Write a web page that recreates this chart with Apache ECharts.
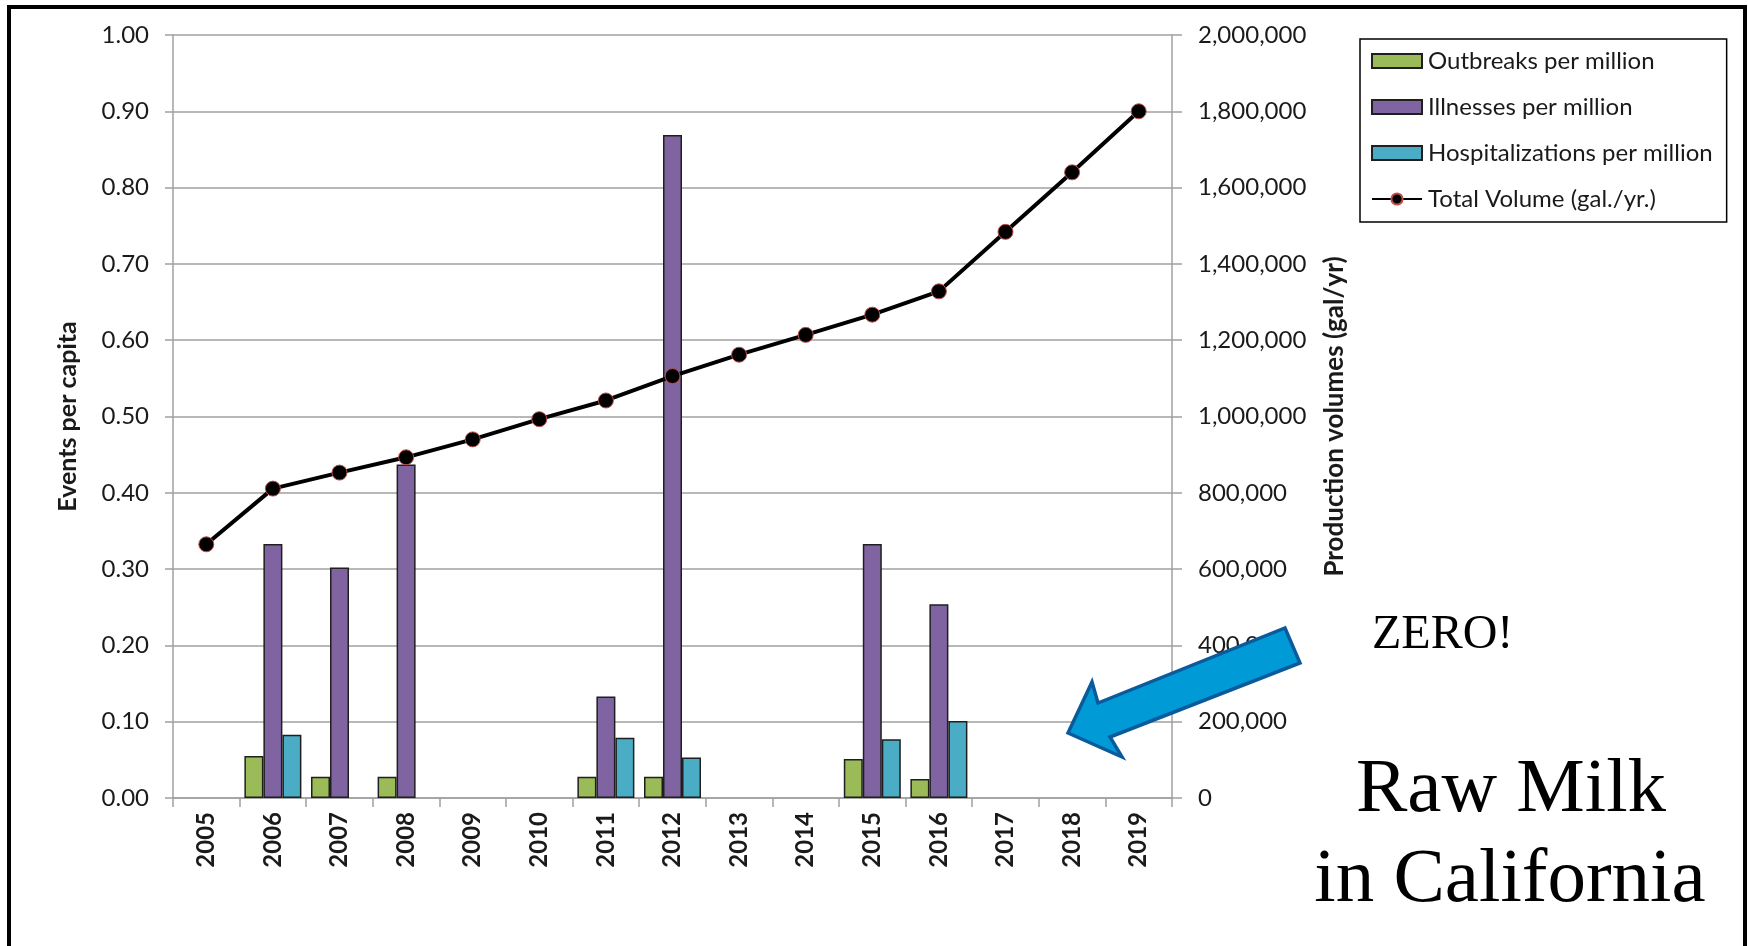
<!DOCTYPE html>
<html>
<head>
<meta charset="utf-8">
<script src="https://cdn.jsdelivr.net/npm/echarts@6/dist/echarts.min.js"></script>
<style>
  html, body { margin: 0; padding: 0; background: #fff; }
  #chart { width: 1748px; height: 946px; }
</style>
</head>
<body>
<div id="chart"></div>
<script>
  var years = ['2005','2006','2007','2008','2009','2010','2011','2012','2013','2014','2015','2016','2017','2018','2019'];
  var outbreaks = [0, 0.055, 0.028, 0.028, 0, 0, 0.028, 0.028, 0, 0, 0.051, 0.025, 0, 0, 0];
  var illnesses = [0, 0.333, 0.302, 0.437, 0, 0, 0.133, 0.869, 0, 0, 0.333, 0.254, 0, 0, 0];
  var hospitalizations = [0, 0.083, 0, 0, 0, 0, 0.079, 0.053, 0, 0, 0.077, 0.101, 0, 0, 0];
  var volume = [665000, 811000, 853000, 893000, 940000, 993000, 1042000, 1106000, 1162000, 1214000, 1267000, 1328000, 1484000, 1640000, 1800000];

  var gray = '#a0a0a0';
  var ink = '#1a1a1a';
  var sans = 'Lato, "Open Sans", sans-serif';
  var serif = '"Liberation Serif", "DejaVu Serif", serif';

  // zero years draw no bar
  function bars(arr) { return arr.map(function(v) { return v === 0 ? '-' : v; }); }

  var chart = echarts.init(document.getElementById('chart'), null, { renderer: 'canvas' });
  chart.setOption({
    animation: false,
    backgroundColor: '#fff',
    textStyle: { fontFamily: sans },
    grid: { left: 173, right: 576, top: 35, bottom: 148 },
    legend: {
      orient: 'vertical',
      left: 1360, top: 39,
      padding: [10, 14, 11, 11],
      itemGap: 22,
      itemWidth: 50, itemHeight: 14,
      borderColor: '#000', borderWidth: 1.5,
      backgroundColor: '#fff',
      textStyle: { color: ink, fontSize: 24, fontFamily: sans, padding: [0, 0, 0, 1] },
      data: [
        { name: 'Outbreaks per million', icon: 'rect' },
        { name: 'Illnesses per million', icon: 'rect' },
        { name: 'Hospitalizations per million', icon: 'rect' },
        { name: 'Total Volume (gal./yr.)' }
      ]
    },
    xAxis: {
      type: 'category',
      data: years,
      axisLine: { lineStyle: { color: gray, width: 1.5 } },
      axisTick: { show: true, length: 9, lineStyle: { color: gray, width: 1.5 } },
      axisLabel: { rotate: 90, margin: 14, color: ink, fontSize: 24, fontWeight: 'bold', fontFamily: sans }
    },
    yAxis: [
      {
        type: 'value', min: 0, max: 1, interval: 0.1,
        name: 'Events per capita', nameLocation: 'middle', nameRotate: 90, nameGap: 93,
        nameTextStyle: { color: ink, fontSize: 25, fontWeight: 'bold', fontFamily: sans },
        axisLine: { show: true, lineStyle: { color: gray, width: 1.5 } },
        axisTick: { show: true, length: 8, lineStyle: { color: gray, width: 1.5 } },
        splitLine: { lineStyle: { color: gray, width: 1.5 } },
        axisLabel: { margin: 24, color: ink, fontSize: 24, fontFamily: sans, formatter: function(v) { return v.toFixed(2); } }
      },
      {
        type: 'value', min: 0, max: 2000000, interval: 200000,
        name: 'Production volumes (gal/yr)', nameLocation: 'middle', nameRotate: 90, nameGap: 150,
        nameTextStyle: { color: ink, fontSize: 26, fontWeight: 'bold', fontFamily: sans },
        axisLine: { show: true, lineStyle: { color: gray, width: 1.5 } },
        axisTick: { show: true, length: 10, lineStyle: { color: gray, width: 1.5 } },
        splitLine: { show: false },
        axisLabel: { margin: 26, color: ink, fontSize: 24, fontFamily: sans, formatter: function(v) { return v.toLocaleString('en-US'); } }
      }
    ],
    series: [
      {
        name: 'Outbreaks per million', type: 'bar', data: bars(outbreaks),
        barWidth: 19, barGap: '0%',
        itemStyle: { color: '#9bbb59', borderColor: '#1f1f1f', borderWidth: 1.5 }
      },
      {
        name: 'Illnesses per million', type: 'bar', data: bars(illnesses),
        barWidth: 19, barGap: '0%',
        itemStyle: { color: '#8064a2', borderColor: '#1f1f1f', borderWidth: 1.5 }
      },
      {
        name: 'Hospitalizations per million', type: 'bar', data: bars(hospitalizations),
        barWidth: 19, barGap: '0%',
        itemStyle: { color: '#4bacc6', borderColor: '#1f1f1f', borderWidth: 1.5 }
      },
      {
        name: 'Total Volume (gal./yr.)', type: 'line', yAxisIndex: 1, data: volume,
        symbol: 'circle', symbolSize: 15,
        lineStyle: { color: '#000', width: 4 },
        itemStyle: { color: '#000', borderColor: '#c0504d', borderWidth: 1 },
        z: 5
      }
    ],
    graphic: [
      // frame around the slide
      { type: 'rect', z: 100, silent: true, shape: { x: 9, y: 7, width: 1736, height: 960 },
        style: { fill: 'none', stroke: '#000', lineWidth: 4 } },
      // arrow pointing at the empty years
      { type: 'polygon', z: 100, silent: true,
        shape: { points: [[1068, 733], [1092, 682], [1098, 703], [1285, 628], [1300, 663], [1110, 737], [1122, 757]] },
        style: { fill: '#009bd6', stroke: '#0b5a9c', lineWidth: 3.5, lineJoin: 'miter' } },
      { type: 'text', z: 100, left: 1372, top: 611, silent: true,
        style: { text: 'ZERO!', fill: '#000', font: '48px ' + serif } },
      { type: 'text', z: 100, silent: true, x: 1511, y: 752,
        style: { text: 'Raw Milk', fill: '#000', font: '77px ' + serif, align: 'center', verticalAlign: 'top' } },
      { type: 'text', z: 100, silent: true, x: 1510, y: 842,
        style: { text: 'in California', fill: '#000', font: '77px ' + serif, align: 'center', verticalAlign: 'top' } }
    ]
  });
  window.addEventListener('resize', function() { chart.resize(); });
</script>
</body>
</html>
